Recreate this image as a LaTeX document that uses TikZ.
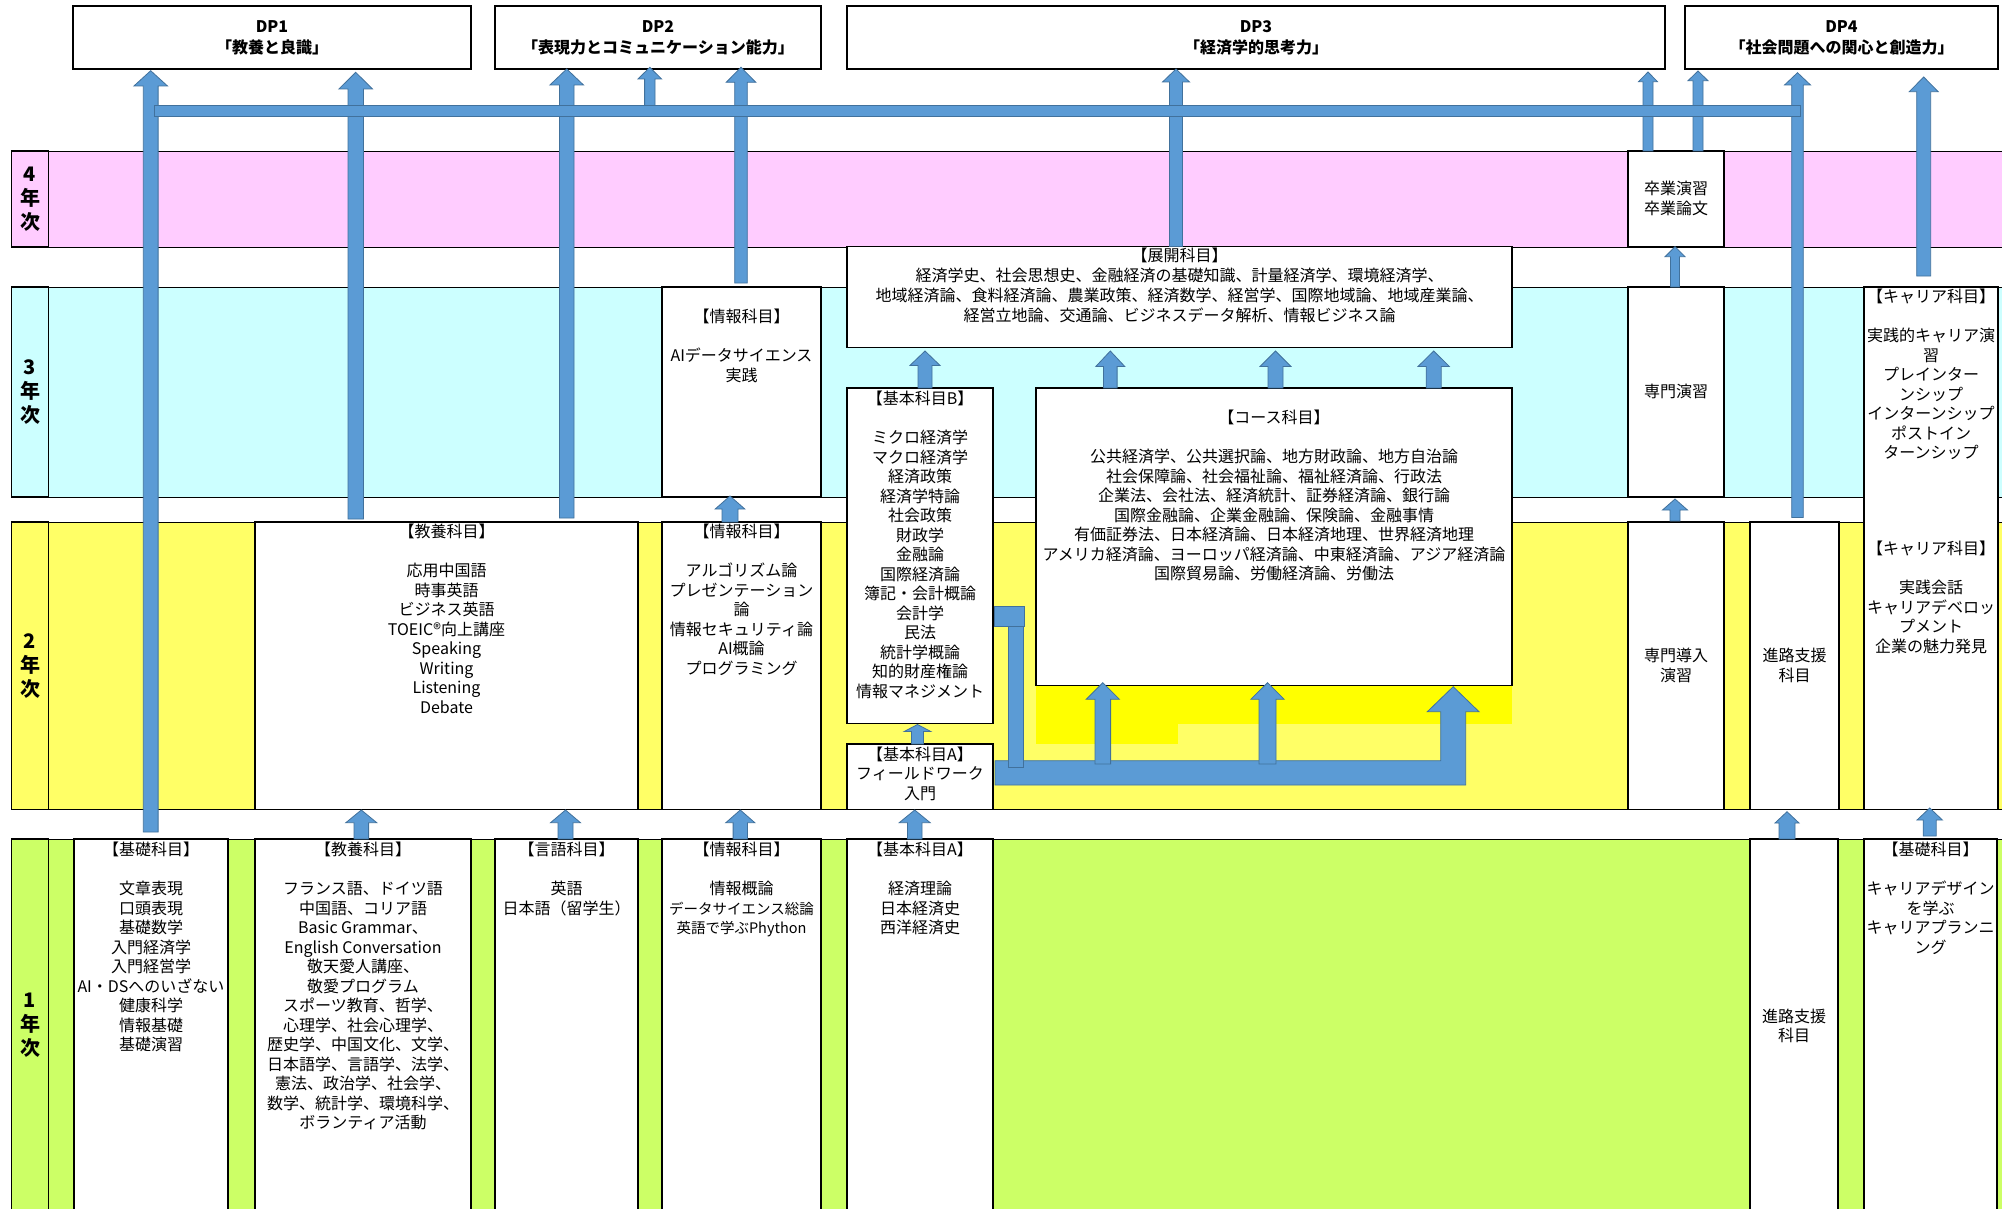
\documentclass[tikz,border=0pt]{standalone}
\usepackage{fontspec}
\setmainfont{Noto Sans CJK JP}
\usetikzlibrary{fit}
\definecolor{pinkband}{HTML}{FFCCFF}
\definecolor{cyanband}{HTML}{CCFFFF}
\definecolor{yelband}{HTML}{FFFF66}
\definecolor{greenband}{HTML}{CCFF66}
\definecolor{brightyel}{HTML}{FFFF00}
\definecolor{arrfill}{HTML}{5B9BD5}
\definecolor{arrline}{HTML}{41719C}
\newcommand{\blkup}[6]{\filldraw[arr] ({#1-#5},#4) -- ({#1-#5},#3) -- ({#1-#6},#3) -- (#1,#2) -- ({#1+#6},#3) -- ({#1+#5},#3) -- ({#1+#5},#4) -- cycle;}
\tikzset{
  band/.style={draw=black, line width=0.9pt, inner sep=0pt},
  box/.style={draw=black, fill=white, line width=1.7pt, inner sep=0pt},
  lblcell/.style={draw=black, line width=1.7pt, inner sep=0pt},
  arr/.style={fill=arrfill, draw=arrline, line width=0.8pt, line join=miter},
  tx/.style={anchor=north, align=center, inner sep=0pt, font=\fontsize{16}{19.5}\selectfont},
  ctx/.style={anchor=center, align=center, inner sep=0pt, font=\fontsize{16}{19.5}\selectfont},
  dptx/.style={align=center, inner sep=0pt, font=\fontsize{16}{21}\selectfont\bfseries},
  lbl/.style={align=center, inner sep=0pt, font=\fontsize{20}{24}\selectfont\bfseries}
}
\begin{document}
\begin{tikzpicture}[x=1pt,y=-1pt]
\useasboundingbox (0,0) rectangle (2002,1209);
\fill[white] (0,0) rectangle (2002,1209);
% bands
\node[band, fill=pinkband, fit={(11.5,151) (2010,247)}] (y4) {};
\node[band, fill=cyanband, fit={(11.5,287) (2010,497)}] (y3) {};
\node[band, fill=yelband, fit={(11.5,522) (2010,809.6)}] (y2) {};
\node[band, fill=greenband, fit={(11.5,839) (2010,1230)}] (y1) {};
\node[lblcell, fill=pinkband, fit={(11.5,151) (48.5,247)}] (l4) {};
\node[lblcell, fill=cyanband, fit={(11.5,287) (48.5,497)}] (l3) {};
\node[lblcell, fill=yelband, fit={(11.5,522) (48.5,809.6)}] (l2) {};
\node[lblcell, fill=greenband, fit={(11.5,839) (48.5,1230)}] (l1) {};
% bright yellow patch
\fill[brightyel] (1036,685.5) rectangle (1512,724);
\fill[brightyel] (1036,724) rectangle (1177.7,744);
% boxes
\node[box, fit={(73,6) (471,69)}] (dp1) {};
\node[box, fit={(495,6) (821,69)}] (dp2) {};
\node[box, fit={(847,6) (1665,69)}] (dp3) {};
\node[box, fit={(1685,6) (1998,69)}] (dp4) {};
\node[box, fit={(1628,151) (1724,247)}] (sotsu) {};
\node[box, fit={(847,246.5) (1512,347.6)}] (tenkai) {};
\node[box, fit={(662,287) (821,497)}] (joho3) {};
\node[box, fit={(1628,287) (1724,496.5)}] (senmon3) {};
\node[box, fit={(1864,287) (1998,809.6)}] (career23) {};
\node[box, fit={(847,388) (993,723.5)}] (kihonB) {};
\node[box, fit={(1036,388) (1512,685.5)}] (course) {};
\node[box, fit={(255,522) (638,809.6)}] (kyoyo2) {};
\node[box, fit={(662,522) (821,809.6)}] (joho2) {};
\node[box, fit={(847,744) (993,809.6)}] (kihonA2) {};
\node[box, fit={(1628,522) (1724,809.6)}] (dounyu) {};
\node[box, fit={(1750,522) (1839,809.6)}] (shinro2) {};
\node[box, fit={(74,839) (228,1230)}] (kiso1) {};
\node[box, fit={(255,839) (471,1230)}] (kyoyo1) {};
\node[box, fit={(495,839) (638,1230)}] (gengo1) {};
\node[box, fit={(662,839) (821,1230)}] (joho1) {};
\node[box, fit={(847,839) (993,1230)}] (kihonA1) {};
\node[box, fit={(1750,839) (1838,1230)}] (shinro1) {};
\node[box, fit={(1864,839) (1997,1230)}] (career1) {};
% arrows to DPs
\blkup{150.7}{70.7}{86}{832}{7.4}{16.8}
\blkup{355.7}{72.3}{89}{519}{7.7}{16.8}
\blkup{566.7}{69}{85}{518}{7.3}{16.8}
\blkup{649.8}{67.3}{79}{110}{5.2}{11.8}
\blkup{741}{67.3}{82.3}{283}{6.3}{14.8}
\blkup{1176}{69}{82}{246.5}{6.5}{13.5}
\blkup{1648}{72}{81.7}{151}{5}{9.5}
\blkup{1698}{71}{80.7}{151}{5}{10}
\blkup{1797.5}{72.7}{85}{517.5}{5.8}{13}
\blkup{1923.7}{77}{91.7}{276}{7}{14.5}
\filldraw[arr] (154.5,105.7) rectangle (1800,116);
% middle arrows
\blkup{917.5}{724.5}{731.5}{744}{6}{13.3}
\blkup{925}{351}{365.4}{388}{7}{15}
\blkup{1110.3}{351}{366.5}{388}{6.8}{14.5}
\blkup{1275.5}{351}{366.5}{388}{7.5}{15.5}
\blkup{1433.7}{351}{366.5}{388}{7.5}{15.7}
\blkup{730}{496}{509}{522}{8}{14.8}
\blkup{1675}{499}{510}{521}{5}{12.5}
\blkup{1675}{246.7}{256.7}{287}{4.5}{10}
% 1st year -> 2nd year
\blkup{361.3}{810}{822.7}{839}{7.3}{15.5}
\blkup{565.5}{810}{822.7}{839}{7.5}{15}
\blkup{740.3}{810}{822.7}{839}{7.2}{14.5}
\blkup{914.7}{810}{822.7}{839}{7.3}{15.5}
\blkup{1787}{811.7}{823}{839}{8}{12}
\blkup{1929.7}{808}{820}{836}{6.5}{12.7}
% L-shaped arrow
\filldraw[arr] (995,760.7) -- (1440.7,760.7) -- (1440.7,711.7) -- (1427.3,711.7) -- (1453.2,686.7) -- (1479,711.7) -- (1465.7,711.7) -- (1465.7,785) -- (995,785) -- cycle;
\filldraw[arr] (1008.7,626) rectangle (1023.3,767.7);
\blkup{1102.8}{682.7}{699.3}{764}{7.8}{16.6}
\blkup{1267.5}{682.7}{699.3}{764}{8.5}{16.7}
\filldraw[arr] (994,606.7) rectangle (1024,626);
% labels
\node[lbl] (t4) at (30,199) {4\\年\\次};
\node[lbl] (t3) at (30,392) {3\\年\\次};
\node[lbl] (t2) at (30,666) {2\\年\\次};
\node[lbl] (t1) at (30,1025) {1\\年\\次};
% DP texts
\node[dptx] (dp1t) at (272,37.5) {DP1\\「教養と良識」};
\node[dptx] (dp2t) at (658,37.5) {DP2\\「表現力とコミュニケーション能力」};
\node[dptx] (dp3t) at (1256,37.5) {DP3\\「経済学的思考力」};
\node[dptx] (dp4t) at (1841.5,37.5) {DP4\\「社会問題への関心と創造力」};
% 4th year
\node[ctx] (sotsut) at (1676,198.5) {卒業演習\\卒業論文};
% 3rd year
\node[tx, font=\fontsize{16}{20}\selectfont] (tenkait) at (1179.5,248) {【展開科目】\\経済学史、社会思想史、金融経済の基礎知識、計量経済学、環境経済学、\\地域経済論、食料経済論、農業政策、経済数学、経営学、国際地域論、地域産業論、\\経営立地論、交通論、ビジネスデータ解析、情報ビジネス論};
\node[tx] (joho3t) at (741.5,309) {【情報科目】\\ \\AIデータサイエンス\\実践};
\node[ctx] (senmon3t) at (1676,391.5) {専門演習};
\node[tx] (career3t) at (1931,289) {【キャリア科目】\\ \\実践的キャリア演\\習\\プレインター\\ンシップ\\インターンシップ\\ポストイン\\ターンシップ};
\node[tx] (career2t) at (1931,541) {【キャリア科目】\\ \\実践会話\\キャリアデベロッ\\プメント\\企業の魅力発見};
\node[tx] (kihonBt) at (920,391) {【基本科目B】\\ \\ミクロ経済学\\マクロ経済学\\経済政策\\経済学特論\\社会政策\\財政学\\金融論\\国際経済論\\簿記・会計概論\\会計学\\民法\\統計学概論\\知的財産権論\\情報マネジメント};
\node[tx] (courset) at (1274,410) {【コース科目】\\ \\公共経済学、公共選択論、地方財政論、地方自治論\\社会保障論、社会福祉論、福祉経済論、行政法\\企業法、会社法、経済統計、証券経済論、銀行論\\国際金融論、企業金融論、保険論、金融事情\\有価証券法、日本経済論、日本経済地理、世界経済地理\\アメリカ経済論、ヨーロッパ経済論、中東経済論、アジア経済論\\国際貿易論、労働経済論、労働法};
% 2nd year
\node[tx] (kyoyo2t) at (446.5,524) {【教養科目】\\ \\応用中国語\\時事英語\\ビジネス英語\\TOEIC®向上講座\\Speaking\\Writing\\Listening\\Debate};
\node[tx] (joho2t) at (741.5,524) {【情報科目】\\ \\アルゴリズム論\\プレゼンテーション\\論\\情報セキュリティ論\\AI概論\\プログラミング};
\node[tx] (kihonA2t) at (920,746.5) {【基本科目A】\\フィールドワーク\\入門};
\node[ctx] (dounyut) at (1676,665.5) {専門導入\\演習};
\node[ctx] (shinro2t) at (1794.5,665.5) {進路支援\\科目};
% 1st year
\node[tx] (kiso1t) at (151,842) {【基礎科目】\\ \\文章表現\\口頭表現\\基礎数学\\入門経済学\\入門経営学\\AI・DSへのいざない\\健康科学\\情報基礎\\基礎演習};
\node[tx] (kyoyo1t) at (363,842) {【教養科目】\\ \\フランス語、ドイツ語\\中国語、コリア語\\Basic Grammar、\\English Conversation\\敬天愛人講座、\\敬愛プログラム\\スポーツ教育、哲学、\\心理学、社会心理学、\\歴史学、中国文化、文学、\\日本語学、言語学、法学、\\憲法、政治学、社会学、\\数学、統計学、環境科学、\\ボランティア活動};
\node[tx] (gengo1t) at (566.5,842) {【言語科目】\\ \\英語\\日本語（留学生）};
\node[tx] (joho1t) at (741.5,842) {【情報科目】\\ \\情報概論\\{\fontsize{14.5}{19.5}\selectfont データサイエンス総論}\\{\fontsize{14.5}{19.5}\selectfont 英語で学ぶPhython}};
\node[tx] (kihonA1t) at (920,842) {【基本科目A】\\ \\経済理論\\日本経済史\\西洋経済史};
\node[ctx] (shinro1t) at (1794,1026) {進路支援\\科目};
\node[tx] (career1t) at (1930.5,842) {【基礎科目】\\ \\キャリアデザイン\\を学ぶ\\キャリアプランニ\\ング};
\end{tikzpicture}
\end{document}
